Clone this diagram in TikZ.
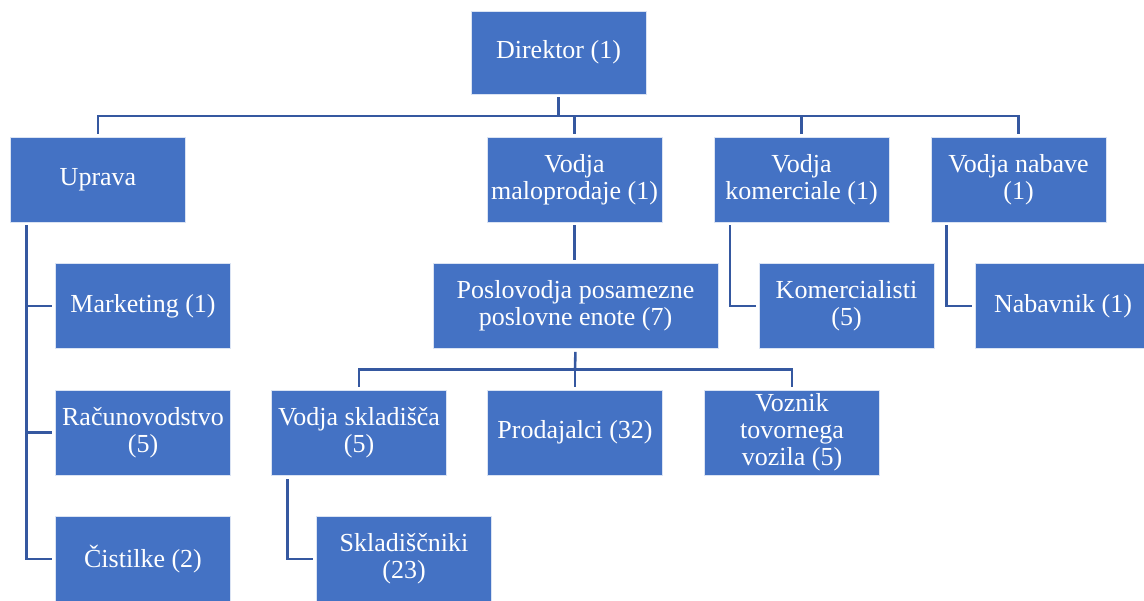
\documentclass[tikz,border=0pt]{standalone}
\usepackage{fontspec}
\setmainfont{Liberation Serif}
\usepackage{tikz}
\usetikzlibrary{calc}

\definecolor{boxblue}{HTML}{4472C4}
\definecolor{linkblue}{HTML}{3558A0}

\tikzset{
  unit/.style={rectangle, fill=boxblue, draw=white!80!boxblue, line width=0.8pt,
    text=white, align=center, inner sep=0pt, minimum width=175pt, minimum height=85pt,
    font=\fontsize{26}{27}\selectfont},
  link/.style={draw=linkblue, line width=2.6pt}
}

\begin{document}
\begin{tikzpicture}[x=1pt,y=-1pt]
  \useasboundingbox (0,0) rectangle (1144,601);

  % vrh
  \node[unit, minimum height=83pt] (dir) at (558.5,52.5) {Direktor (1)};

  % druga raven
  \node[unit] (upr)  at (98,179.5)    {Uprava};
  \node[unit] (malo) at (574.5,179.5) {Vodja\\maloprodaje (1)};
  \node[unit] (kom)  at (801.5,179.5) {Vodja\\komerciale (1)};
  \node[unit] (nab)  at (1018.5,179.5) {Vodja nabave\\(1)};

  % uprava
  \node[unit] (mkt) at (143,306)   {Marketing (1)};
  \node[unit] (rac) at (143,432.5) {Računovodstvo\\(5)};
  \node[unit] (cis) at (143,559)   {Čistilke (2)};

  % maloprodaja
  \node[unit, minimum width=285pt] (posl) at (575.5,306) {Poslovodja posamezne\\poslovne enote (7)};
  \node[unit] (vsk)  at (359,432.5) {Vodja skladišča\\(5)};
  \node[unit] (prod) at (575,432.5) {Prodajalci (32)};
  \node[unit] (voz)  at (792,432.5) {Voznik\\tovornega\\vozila (5)};
  \node[unit] (skl)  at (404,559)   {Skladiščniki\\(23)};

  % komerciala in nabava
  \node[unit] (komc) at (846.5,306) {Komercialisti\\(5)};
  \node[unit] (nabv) at (1063,306)  {Nabavnik (1)};

  % povezave
  \coordinate (bus1) at (558.5,116);
  \draw[link, shorten <=3pt] (dir.south) -- (bus1);
  \foreach \n in {upr,malo,kom,nab}
    \draw[link, shorten >=3pt] (bus1) -| (\n.north);

  \foreach \n in {mkt,rac,cis}
    \draw[link, shorten >=3pt] ([shift={(-71.5,3)}]upr.south) |- (\n.west);

  \draw[link, shorten <=3pt, shorten >=3pt] (malo.south) -- (malo.south |- posl.north);
  \coordinate (bus2) at (575,369.5);
  \draw[link, shorten <=3pt] (posl.south) -- (bus2);
  \foreach \n in {vsk,prod,voz}
    \draw[link, shorten >=3pt] (bus2) -| (\n.north);
  \draw[link, shorten >=3pt] ([shift={(-71.7,4)}]vsk.south) |- (skl.west);

  \draw[link, shorten >=3pt] ([shift={(-71.5,3)}]kom.south) |- (komc.west);
  \draw[link, shorten >=3pt] ([shift={(-72,3)}]nab.south) |- (nabv.west);
\end{tikzpicture}
\end{document}
